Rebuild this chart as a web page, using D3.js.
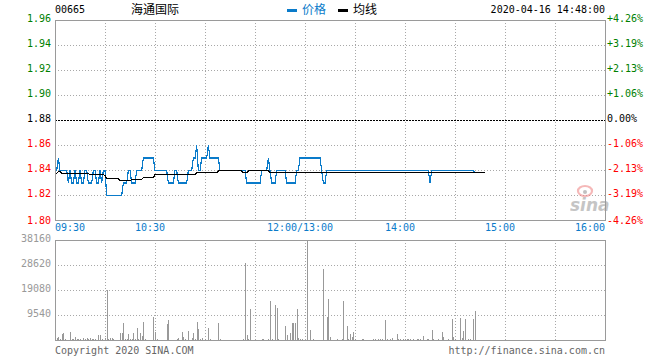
<!DOCTYPE html>
<html>
<head>
<meta charset="utf-8">
<script src="https://cdn.jsdelivr.net/npm/d3@7"></script>
<style>
  body { margin: 0; background: #fff; }
  svg { display: block; }
  text { font-family: "DejaVu Sans Mono", monospace; font-size: 10px; }
  text.cjk { font-family: "Noto Sans CJK SC", sans-serif; font-size: 12px; }
</style>
</head>
<body>
<svg id="chart" width="660" height="360"></svg>
<script>
/* ---------- data ------------------------------------------------ */
const stockCode = "00665";
const stockName = "海通国际";
const stamp     = "2020-04-16 14:48:00";
const prevClose = 1.88;

const priceTicks = [1.80, 1.82, 1.84, 1.86, 1.88, 1.90, 1.92, 1.94, 1.96];
const volTicks   = [9540, 19080, 28620, 38160];
const timeTicks  = [0, 60, 150, 210, 270, 330];   // minutes since 09:30, lunch removed
const timeLabels = ["09:30", "10:30", "12:00/13:00", "14:00", "15:00", "16:00"];

// one value per minute
const price = [
  1.84,1.84,1.85,1.84,1.84,1.84,1.84,1.84,1.83,1.84,
  1.83,1.83,1.84,1.83,1.83,1.84,1.83,1.83,1.84,1.84,
  1.83,1.83,1.83,1.84,1.84,1.83,1.83,1.84,1.83,1.84,
  1.84,1.82,1.82,1.82,1.82,1.82,1.82,1.82,1.82,1.82,
  1.82,1.83,1.83,1.83,1.84,1.84,1.83,1.83,1.83,1.84,
  1.84,1.84,1.84,1.85,1.85,1.85,1.85,1.85,1.85,1.85,
  1.84,1.84,1.84,1.84,1.84,1.84,1.84,1.84,1.83,1.83,
  1.83,1.83,1.84,1.84,1.83,1.83,1.83,1.83,1.83,1.83,
  1.84,1.84,1.84,1.85,1.85,1.86,1.84,1.84,1.85,1.85,
  1.85,1.85,1.86,1.85,1.85,1.85,1.85,1.85,1.85,1.84,
  1.84,1.84,1.84,1.84,1.84,1.84,1.84,1.84,1.84,1.84,
  1.84,1.84,1.84,1.84,1.84,1.83,1.83,1.83,1.83,1.83,
  1.83,1.83,1.83,1.83,1.84,1.84,1.84,1.84,1.85,1.84,
  1.83,1.83,1.83,1.84,1.84,1.84,1.84,1.84,1.84,1.83,
  1.83,1.83,1.83,1.83,1.83,1.84,1.84,1.85,1.85,1.85,
  1.85,1.85,1.85,1.85,1.85,1.85,1.85,1.85,1.85,1.85,
  1.84,1.83,1.83,1.84,1.84,1.84,1.84,1.84,1.84,1.84,
  1.84,1.84,1.84,1.84,1.84,1.84,1.84,1.84,1.84,1.84,
  1.84,1.84,1.84,1.84,1.84,1.84,1.84,1.84,1.84,1.84,
  1.84,1.84,1.84,1.84,1.84,1.84,1.84,1.84,1.84,1.84,
  1.84,1.84,1.84,1.84,1.84,1.84,1.84,1.84,1.84,1.84,
  1.84,1.84,1.84,1.84,1.84,1.84,1.84,1.84,1.84,1.84,
  1.84,1.84,1.84,1.84,1.84,1.83,1.84,1.84,1.84,1.84,
  1.84,1.84,1.84,1.84,1.84,1.84,1.84,1.84,1.84,1.84,
  1.84,1.84,1.84,1.84,1.84,1.84,1.84,1.84,1.84,1.84,
  1.84,1.84,1.8384
];

const avgPrice = [
  1.8376,1.8376,1.839,1.839,1.8376,1.8376,1.8376,1.8376,1.8376,1.8376,
  1.8376,1.8376,1.8376,1.8376,1.8376,1.8376,1.8376,1.8376,1.8376,1.8376,
  1.8376,1.8368,1.8368,1.8368,1.8368,1.8368,1.8368,1.8368,1.8368,1.8368,
  1.836,1.8336,1.8336,1.8336,1.8336,1.8336,1.8336,1.8336,1.8336,1.8317,
  1.8317,1.8317,1.8317,1.8317,1.8317,1.8317,1.8328,1.8328,1.8328,1.8328,
  1.8328,1.8328,1.8328,1.8344,1.8344,1.8344,1.8344,1.8344,1.8344,1.8344,
  1.8368,1.8368,1.8368,1.8368,1.8368,1.8368,1.8368,1.8368,1.8368,1.8368,
  1.8368,1.8368,1.8368,1.8368,1.8368,1.8368,1.8368,1.8368,1.8368,1.8368,
  1.8368,1.8368,1.8368,1.8368,1.8368,1.8384,1.8384,1.8384,1.8384,1.8384,
  1.8384,1.8384,1.8384,1.8384,1.8384,1.8384,1.8384,1.8384,1.8397,1.8397,
  1.8397,1.8397,1.8397,1.8397,1.8397,1.8397,1.8397,1.8397,1.8397,1.8397,
  1.8397,1.8397,1.8397,1.8384,1.8384,1.8384,1.8397,1.8397,1.8397,1.8397,
  1.8397,1.8397,1.8397,1.8397,1.8397,1.8397,1.8397,1.8397,1.8397,1.8384,
  1.8384,1.8384,1.8384,1.8384,1.8384,1.8384,1.8384,1.8384,1.8384,1.8384,
  1.8384,1.8384,1.8384,1.8384,1.8384,1.8384,1.8384,1.8384,1.8384,1.8384,
  1.8384,1.8384,1.8384,1.8384,1.8384,1.8384,1.8384,1.8384,1.8384,1.8384,
  1.8384,1.8384,1.8384,1.8384,1.8384,1.8384,1.8384,1.8384,1.8384,1.8384,
  1.8384,1.8384,1.8384,1.8384,1.8384,1.8384,1.8384,1.8384,1.8384,1.8384,
  1.8384,1.8384,1.8384,1.8384,1.8384,1.8384,1.8384,1.8384,1.8384,1.8384,
  1.8384,1.8384,1.8384,1.8384,1.8384,1.8384,1.8384,1.8384,1.8384,1.8384,
  1.8384,1.8384,1.8384,1.8384,1.8384,1.8384,1.8384,1.8384,1.8384,1.8384,
  1.8384,1.8384,1.8384,1.8384,1.8384,1.8384,1.8384,1.8384,1.8384,1.8384,
  1.8384,1.8384,1.8384,1.8384,1.8384,1.8384,1.8384,1.8384,1.8384,1.8384,
  1.8384,1.8384,1.8384,1.8384,1.8384,1.8384,1.8384,1.8384,1.8384,1.8384,
  1.8384,1.8384,1.8384,1.8384,1.8384,1.8384,1.8384,1.8384,1.8384,1.8384,
  1.8384,1.8384,1.8384,1.8384,1.8384,1.8384,1.8384,1.8384,1.8384
];

// [minute, shares] – minutes without a visible bar are left out
const volume = [
  [1,760],[2,1150],[3,500],[4,2160],[5,2670],[6,400],[9,3050],[10,400],[11,500],[12,1150],
  [13,400],[14,400],[15,400],[17,760],[18,400],[19,760],[20,400],[21,760],[22,400],[23,400],
  [24,400],[26,1900],[27,1900],[28,400],[30,760],[31,18960],[32,400],[33,760],[34,760],[35,400],
  [39,2670],[40,2670],[41,6490],[42,400],[43,400],[44,2290],[45,400],[46,400],[47,2670],[48,400],
  [49,4580],[50,400],[51,2670],[52,1650],[53,6870],[54,400],[59,8780],[60,2900],[61,400],
  [67,6100],[68,7630],[73,400],[74,760],[76,3050],[77,1150],[78,400],[80,3430],[82,760],[83,2670],
  [84,400],[85,6870],[86,4200],[87,400],[88,760],[90,400],[92,4580],[93,400],[98,6490],[99,400],
  [113,400],[114,29380],[115,1900],[116,400],[117,11830],[124,400],[125,400],[128,400],[129,14880],
  [130,400],[132,13360],[133,12210],[134,400],[138,5340],[139,1900],[141,2670],[142,6490],[143,6490],
  [144,6490],[145,11830],[146,760],[147,400],[148,400],
  [151,38160],[153,3820],[155,400],[161,26970],[163,8650],[164,15650],[165,1000],[169,400],[172,400],
  [173,14880],[175,5340],[176,400],[177,2290],[178,1000],[179,3050],[180,400],[184,500],[185,500],
  [191,500],[192,500],[194,500],[195,500],[196,500],[198,7630],[199,500],[201,500],[202,760],
  [205,2290],[206,500],[207,500],[209,500],[210,500],[211,500],[212,500],[213,500],[215,500],
  [217,500],[218,500],[219,500],[221,1530],[223,500],[224,500],[226,3820],[227,500],[230,500],
  [232,3050],[233,1000],[236,500],[238,8010],[239,1000],[240,500],[243,8270],[244,760],[245,3430],
  [246,8010],[248,500],[249,500],[251,8010],[252,11070]
];

/* ---------- colours --------------------------------------------- */
const BLUE  = "#0a7bca";
const GREEN = "#008000";
const RED   = "#ff0000";
const GRID  = "#a8a8a8";
const FRAME = "#9a9a9a";

const svg = d3.select("#chart");

/* ---------- scales ---------------------------------------------- */
const x  = d3.scaleLinear().domain([0, 330]).range([55, 605]);
const y  = d3.scaleLinear().domain([1.80, 1.96]).range([220, 20]);
const yv = d3.scaleLinear().domain([0, d3.max(volTicks)]).range([340, 240]);

const crisp = v => Math.round(v) + 0.5;
const gridX = d3.range(30, 330, 30);
const colourFor = v => Math.abs(v - prevClose) < 1e-9 ? "#000" : (v > prevClose ? GREEN : RED);
const pct = v => {
  const p = (v - prevClose) / prevClose * 100;
  return (p > 0.0001 ? "+" : "") + p.toFixed(2) + "%";
};

/* ---------- header ---------------------------------------------- */
svg.append("text").attr("x", 55).attr("y", 12.5).text(stockCode);
svg.append("text").attr("class", "cjk").attr("x", 131).attr("y", 14).text(stockName);

const legend = svg.append("g");
legend.append("rect").attr("x", 287).attr("y", 9).attr("width", 10).attr("height", 3).attr("fill", BLUE);
legend.append("text").attr("class", "cjk").attr("x", 302).attr("y", 14).attr("fill", BLUE).text("价格");
legend.append("rect").attr("x", 338).attr("y", 9).attr("width", 10).attr("height", 3).attr("fill", "#000");
legend.append("text").attr("class", "cjk").attr("x", 353).attr("y", 14).text("均线");

svg.append("text").attr("x", 605).attr("y", 12.5).attr("text-anchor", "end").text(stamp);

/* ---------- price panel grid ------------------------------------ */
const gP = svg.append("g");
gP.selectAll(".hg").data(priceTicks.filter(v => v > 1.80 && v < 1.96))
  .enter().append("line")
    .attr("x1", 55).attr("x2", 605)
    .attr("y1", d => crisp(y(d))).attr("y2", d => crisp(y(d)))
    .attr("stroke", d => Math.abs(d - prevClose) < 1e-9 ? "#000" : GRID)
    .attr("stroke-dasharray", d => Math.abs(d - prevClose) < 1e-9 ? "2,1" : "1,2");
gP.selectAll(".vg").data(gridX)
  .enter().append("line")
    .attr("x1", d => crisp(x(d))).attr("x2", d => crisp(x(d)))
    .attr("y1", 20).attr("y2", 220)
    .attr("stroke", GRID).attr("stroke-dasharray", "1,2");

/* ---------- price axes labels ----------------------------------- */
svg.selectAll(".yl").data(priceTicks)
  .enter().append("text")
    .attr("x", 51).attr("y", d => y(d) + (d === 1.80 ? 4 : 2))
    .attr("text-anchor", "end").attr("fill", colourFor)
    .text(d => d.toFixed(2));
svg.selectAll(".yr").data(priceTicks)
  .enter().append("text")
    .attr("x", 607).attr("y", d => y(d) + (d === 1.80 ? 4 : 2))
    .attr("fill", colourFor)
    .text(pct);

/* ---------- time labels ----------------------------------------- */
svg.selectAll(".tl").data(timeTicks)
  .enter().append("text")
    .attr("x", (d, i) => i === 0 ? x(d) : (i === timeTicks.length - 1 ? x(d) : x(d) - 5))
    .attr("y", 231)
    .attr("text-anchor", (d, i) => i === 0 ? "start" : (i === timeTicks.length - 1 ? "end" : "middle"))
    .attr("fill", BLUE)
    .text((d, i) => timeLabels[i]);

/* ---------- watermark ------------------------------------------- */
const wm = svg.append("g").attr("opacity", 0.6);
wm.append("ellipse").attr("cx", 585).attr("cy", 191).attr("rx", 7).attr("ry", 5)
  .attr("fill", "none").attr("stroke", "#f08a8a").attr("stroke-width", 2.2);
wm.append("circle").attr("cx", 585).attr("cy", 192).attr("r", 2).attr("fill", "#999");
wm.append("text").attr("x", 570).attr("y", 211)
  .style("font-family", '"DejaVu Sans", sans-serif').style("font-size", "17px")
  .style("font-weight", "bold").style("font-style", "italic")
  .attr("fill", "#a0a0a0").text("sina");

/* ---------- lines ----------------------------------------------- */
const line = d3.line().x((d, i) => x(i)).y(d => y(d) + 0.5);
svg.append("path").datum(price)
   .attr("d", line).attr("fill", "none")
   .attr("stroke", BLUE).attr("stroke-width", 1.2)
   .attr("shape-rendering", "crispEdges");
svg.append("path").datum(avgPrice)
   .attr("d", line).attr("fill", "none")
   .attr("stroke", "#000").attr("stroke-width", 1.2)
   .attr("shape-rendering", "crispEdges");

/* ---------- price frame ----------------------------------------- */
svg.append("rect").attr("x", 55.5).attr("y", 20.5).attr("width", 550).attr("height", 200)
   .attr("fill", "none").attr("stroke", FRAME);

/* ---------- volume panel ---------------------------------------- */
const gV = svg.append("g");
gV.selectAll(".hv").data(volTicks.filter(v => v < d3.max(volTicks)))
  .enter().append("line")
    .attr("x1", 55).attr("x2", 605)
    .attr("y1", d => crisp(yv(d))).attr("y2", d => crisp(yv(d)))
    .attr("stroke", GRID).attr("stroke-dasharray", "1,2");
gV.selectAll(".vv").data(gridX)
  .enter().append("line")
    .attr("x1", d => crisp(x(d))).attr("x2", d => crisp(x(d)))
    .attr("y1", 240).attr("y2", 340)
    .attr("stroke", GRID).attr("stroke-dasharray", "1,2");

gV.selectAll(".bar").data(volume)
  .enter().append("rect")
    .attr("x", d => Math.round(x(d[0])))
    .attr("width", 1)
    .attr("y", d => Math.min(Math.round(yv(d[1])), 339))
    .attr("height", d => 340 - Math.min(Math.round(yv(d[1])), 339))
    .attr("fill", "#999");

svg.append("rect").attr("x", 55.5).attr("y", 240.5).attr("width", 550).attr("height", 100)
   .attr("fill", "none").attr("stroke", FRAME);

svg.selectAll(".vl").data(volTicks)
  .enter().append("text")
    .attr("x", 51).attr("y", d => yv(d) + 2)
    .attr("text-anchor", "end").attr("fill", "#999")
    .text(d => d);

/* ---------- footer ---------------------------------------------- */
svg.append("text").attr("x", 55).attr("y", 354).attr("fill", "#666").text("Copyright 2020 SINA.COM");
svg.append("text").attr("x", 605).attr("y", 354).attr("text-anchor", "end").attr("fill", "#666")
   .text("http://finance.sina.com.cn");
</script>
</body>
</html>
